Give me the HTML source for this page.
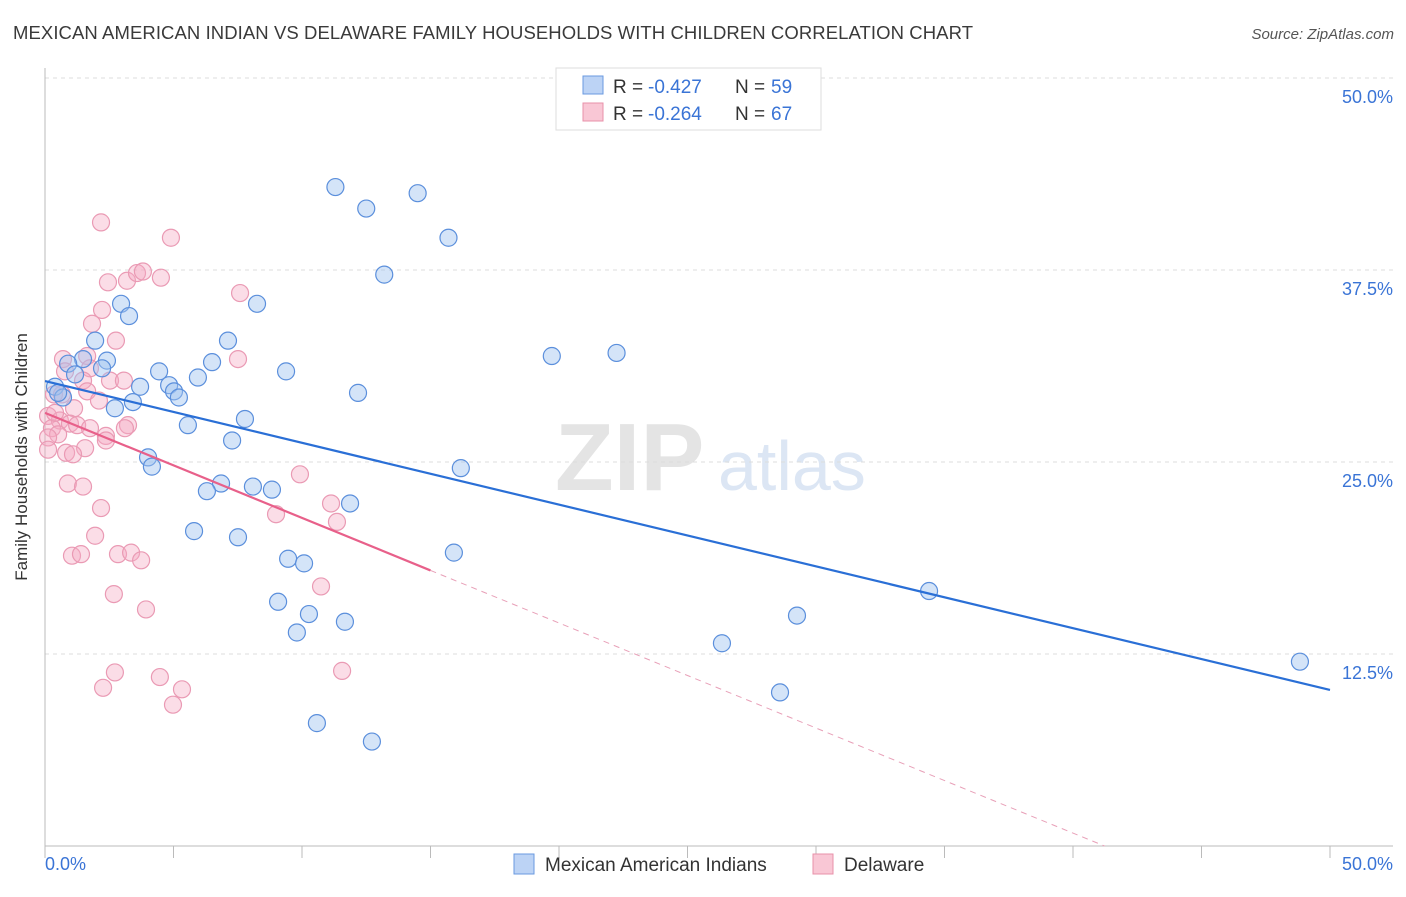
<!DOCTYPE html>
<html><head><meta charset="utf-8"><style>
body{margin:0;background:#fff;font-family:"Liberation Sans",sans-serif;}
svg text{font-family:"Liberation Sans",sans-serif;}
</style></head><body>
<svg id="c" width="1406" height="892" xmlns="http://www.w3.org/2000/svg">
<text x="13" y="39" font-size="18.5" fill="#3a3a3a" textLength="960">MEXICAN AMERICAN INDIAN VS DELAWARE FAMILY HOUSEHOLDS WITH CHILDREN CORRELATION CHART</text>
<text x="1394" y="39" font-size="15" fill="#555" text-anchor="end" font-style="italic">Source: ZipAtlas.com</text>
<g><text x="555" y="490" font-size="96" fill="#e4e4e4" font-family="Liberation Serif" font-weight="bold">ZIP</text><text x="718" y="490" font-size="70" fill="#dce6f4">atlas</text></g>
<g id="grid"></g><g id="axes"></g><g id="pts"></g><g id="trend"></g>
<text x="27" y="457" font-size="17" fill="#333" text-anchor="middle" transform="rotate(-90 27 457)">Family Households with Children</text>
<g>
<rect x="556" y="68" width="265" height="62" fill="#fff" stroke="#ddd"/>
<rect x="583" y="76" width="20" height="18" fill="#bcd3f5" stroke="#6a9ae0"/>
<rect x="583" y="103" width="20" height="18" fill="#f9c7d5" stroke="#e890a9"/>
<text x="613" y="93" font-size="19" fill="#333">R =</text><text x="648" y="93" font-size="19" fill="#3a74d6">-0.427</text>
<text x="735" y="93" font-size="19" fill="#333">N =</text><text x="771" y="93" font-size="19" fill="#3a74d6">59</text>
<text x="613" y="120" font-size="19" fill="#333">R =</text><text x="648" y="120" font-size="19" fill="#3a74d6">-0.264</text>
<text x="735" y="120" font-size="19" fill="#333">N =</text><text x="771" y="120" font-size="19" fill="#3a74d6">67</text>
</g>
<g>
<rect x="514" y="854" width="20" height="20" fill="#bcd3f5" stroke="#6a9ae0"/>
<text x="545" y="871" font-size="19" fill="#333">Mexican American Indians</text>
<rect x="813" y="854" width="20" height="20" fill="#f9c7d5" stroke="#e890a9"/>
<text x="844" y="871" font-size="19" fill="#333">Delaware</text>
</g>
</svg>
<script>
const yTicks=[12.5,25,37.5,50];
const yTickLabels=["12.5%","25.0%","37.5%","50.0%"];
const xTickCount=10;
const blueX=[11.3,12.5,14.5,15.7,13.2,8.25,2.96,3.27,1.95,7.12,2.41,1.48,0.9,2.22,1.17,4.44,6.5,9.38,0.39,3.7,4.83,5.02,5.21,5.95,0.7,3.42,2.72,12.18,7.78,5.56,7.28,4.01,4.16,16.18,6.85,6.3,8.09,8.83,11.87,5.8,7.51,19.72,22.24,9.46,10.08,15.91,9.07,10.27,9.8,11.67,34.4,29.26,26.34,28.6,48.83,10.58,12.72,0.51];
const blueY=[42.9,41.5,42.5,39.6,37.2,35.3,35.3,34.5,32.9,32.9,31.6,31.7,31.4,31.1,30.7,30.9,31.5,30.9,29.9,29.9,30.0,29.6,29.2,30.5,29.2,28.9,28.5,29.5,27.8,27.4,26.4,25.3,24.7,24.6,23.6,23.1,23.4,23.2,22.3,20.5,20.1,31.9,32.1,18.7,18.4,19.1,15.9,15.1,13.9,14.6,16.6,15.0,13.2,10.0,12.0,8.0,6.8,29.5];
const pinkX=[2.18,4.9,2.45,3.19,3.58,3.81,4.51,7.59,2.22,1.83,2.76,1.64,0.7,7.51,1.75,0.78,2.53,3.07,1.48,1.64,0.35,2.1,1.13,0.12,0.58,0.97,1.25,3.23,3.11,0.27,1.75,0.51,0.12,2.37,2.37,1.56,0.82,1.09,0.12,0.89,1.48,2.18,9.92,11.13,11.36,8.99,1.95,1.05,1.4,2.84,3.35,3.74,10.74,2.68,3.93,2.72,2.26,4.47,5.33,4.98,11.56,0.66,0.39];
const pinkY=[40.6,39.6,36.7,36.8,37.3,37.4,37.0,36.0,34.9,34.0,32.9,31.9,31.7,31.7,31.1,30.9,30.3,30.3,30.3,29.6,29.4,29.0,28.5,28.0,27.7,27.5,27.4,27.4,27.2,27.2,27.2,26.8,26.6,26.7,26.4,25.9,25.6,25.5,25.8,23.6,23.4,22.0,24.2,22.3,21.1,21.6,20.2,18.9,19.0,19.0,19.1,18.6,16.9,16.4,15.4,11.3,10.3,11.0,10.2,9.2,11.4,29.4,28.2];
const blueTrend=[30.27,10.16];
const pinkTrend=[28.2,-6.0];
const pinkSolidEnd=15;
const X0=45,X1=1330,Y0=846,Y1=78;
const sx=v=>X0+(X1-X0)*v/50, sy=v=>Y0-(Y0-Y1)*v/50;
const NS="http://www.w3.org/2000/svg";
function mk(t,a,p){const e=document.createElementNS(NS,t);for(const k in a)e.setAttribute(k,a[k]);p.appendChild(e);return e;}
const grid=document.getElementById('grid'),axes=document.getElementById('axes'),pts=document.getElementById('pts'),trend=document.getElementById('trend');
yTicks.forEach((t,i)=>{
 const g=mk('line',{x1:X0,x2:1393,y1:sy(t),y2:sy(t),stroke:'#ddd','stroke-dasharray':'4,4'},grid);
 
 
 const l=mk('text',{x:1393,y:sy(t)+25,'font-size':18,fill:'#3a74d6','text-anchor':'end'},grid);
 l.textContent=yTickLabels[i];
 
 
});
const ya=mk('line',{x1:X0,x2:X0,y1:68,y2:Y0,stroke:'#bbb'},axes);


const xa=mk('line',{x1:X0,x2:1393,y1:Y0,y2:Y0,stroke:'#bbb'},axes);


for(let i=0;i<=xTickCount;i++){const v=50*i/xTickCount;
 const t=mk('line',{x1:sx(v),x2:sx(v),y1:Y0,y2:Y0+12,stroke:'#bbb'},axes);
 
 }
const xl0=mk('text',{x:X0,y:870,'font-size':18,fill:'#3a74d6'},axes);xl0.textContent='0.0%';


const xl1=mk('text',{x:1393,y:870,'font-size':18,fill:'#3a74d6','text-anchor':'end'},axes);xl1.textContent='50.0%';


pinkX.forEach((x,i)=>{const c=mk('circle',{cx:sx(x),cy:sy(pinkY[i]),r:8.5,fill:'rgba(246,170,195,0.4)',stroke:'#ea9ab4','stroke-width':1.2},pts);
 
 });
blueX.forEach((x,i)=>{const c=mk('circle',{cx:sx(x),cy:sy(blueY[i]),r:8.5,fill:'rgba(160,195,240,0.45)',stroke:'#5b8fdc','stroke-width':1.2},pts);
 
 });
const bt=mk('line',{x1:sx(0),y1:sy(blueTrend[0]),x2:sx(50),y2:sy(blueTrend[1]),stroke:'#2a6fd6','stroke-width':2.2},trend);


const pAt=v=>pinkTrend[0]+(pinkTrend[1]-pinkTrend[0])*v/50;
const ps=mk('line',{x1:sx(0),y1:sy(pinkTrend[0]),x2:sx(pinkSolidEnd),y2:sy(pAt(pinkSolidEnd)),stroke:'#e8608a','stroke-width':2.2},trend);


const xEnd=50*pinkTrend[0]/(pinkTrend[0]-pinkTrend[1]);
const pd=mk('line',{x1:sx(pinkSolidEnd),y1:sy(pAt(pinkSolidEnd)),x2:sx(xEnd),y2:sy(0),stroke:'#e8a0b8','stroke-width':1,'stroke-dasharray':'6,5'},trend);


</script>
</body></html>
